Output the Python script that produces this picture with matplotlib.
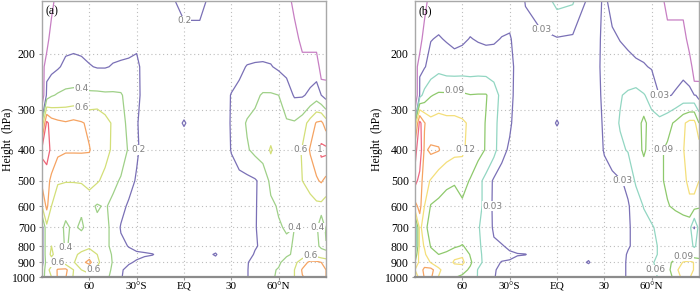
import numpy as np
import matplotlib
matplotlib.use("Agg")
import matplotlib.pyplot as plt

# latitude grid (deg, negative = south) and pressure levels (hPa, top to bottom)
LAT = [-90, -87, -84, -80, -75, -70, -65, -60, -55, -50, -45, -40, -35, -30, -25, -20,
       -10, 0, 10, 20, 25, 30, 35, 40, 45, 50, 55, 60, 65, 70, 75, 80, 84, 87, 90]
PRES = [135, 180, 220, 270, 330, 400, 500, 600, 700, 800, 850, 900, 950, 1000]
NA = -1.0  # no data (polar stratosphere)

# panel (a), one row per pressure level
FIELD_A = [
    [NA, NA, NA, .10, .08, .08, .08, .08, .08, .08, .08, .08, .08, .10, .10, .10, .15, .28, .28, .10, .08, .08, .08, .08, .08, .08, .08, .10, .10, NA, NA, NA, NA, NA, NA],
    [NA, NA, .12, .12, .14, .15, .14, .13, .13, .13, .14, .14, .14, .15, .10, .08, .08, .12, .12, .08, .06, .06, .06, .08, .10, .12, .12, .12, .10, .10, NA, NA, NA, NA, NA],
    [NA, .10, .14, .18, .24, .25, .24, .21, .19, .19, .21, .22, .23, .25, .12, .08, .07, .08, .08, .07, .07, .10, .16, .21, .22, .22, .21, .17, .14, .12, .10, .10, .10, NA, NA],
    [NA, .30, .38, .42, .45, .46, .45, .44, .44, .43, .43, .42, .32, .26, .12, .08, .06, .06, .06, .08, .12, .21, .25, .30, .36, .42, .42, .40, .30, .18, .18, .24, .30, .20, .12],
    [.45, 1.05, .90, .85, .82, .85, .82, .76, .78, .68, .57, .47, .35, .22, .10, .06, .05, .22, .05, .06, .10, .22, .32, .42, .45, .48, .50, .45, .42, .42, .50, .68, .82, .85, .70],
    [1.05, 1.10, .95, .85, .82, .82, .82, .81, .72, .66, .57, .50, .38, .24, .10, .06, .05, .05, .05, .06, .10, .21, .30, .38, .45, .50, .62, .50, .48, .50, .62, .82, .90, 1.05, 1.05],
    [.85, .88, .75, .62, .61, .61, .62, .68, .62, .55, .45, .38, .30, .17, .08, .06, .04, .04, .04, .06, .10, .12, .14, .15, .18, .26, .45, .48, .50, .52, .60, .68, .78, .82, .75],
    [.60, .85, .60, .48, .44, .45, .42, .45, .38, .42, .35, .28, .16, .10, .07, .05, .04, .04, .04, .05, .06, .10, .12, .15, .18, .28, .36, .42, .45, .48, .50, .52, .55, .55, .50],
    [.12, .55, .50, .45, .38, .42, .38, .45, .45, .42, .38, .18, .14, .10, .07, .05, .04, .04, .04, .05, .06, .08, .10, .14, .19, .25, .30, .38, .42, .40, .45, .50, .45, .19, .45],
    [.12, .55, .60, .50, .38, .45, .50, .55, .50, .45, .35, .25, .19, .13, .10, .08, .05, .05, .06, .10, .08, .10, .12, .16, .19, .22, .28, .32, .36, .42, .45, .42, .42, .38, .38],
    [.12, .55, .62, .55, .50, .55, .65, .72, .60, .48, .38, .30, .26, .24, .23, .21, .08, .06, .10, .22, .10, .10, .12, .16, .21, .28, .30, .33, .38, .42, .50, .55, .50, .45, .42],
    [.12, .50, .55, .60, .50, .58, .75, .85, .65, .48, .39, .30, .22, .18, .12, .10, .06, .05, .06, .12, .10, .12, .16, .19, .25, .30, .35, .38, .45, .55, .70, .85, .85, .80, .75],
    [.20, .55, .65, .82, .85, .60, .60, .65, .55, .45, .38, .22, .15, .12, .10, .08, .06, .05, .06, .08, .10, .12, .16, .19, .28, .35, .38, .41, .45, .60, .82, .90, .85, .90, .80],
    [.30, .50, .60, .82, .81, .58, .55, .55, .50, .42, .38, .21, .15, .12, .10, .08, .06, .05, .06, .08, .10, .12, .16, .19, .28, .35, .38, .42, .48, .60, .79, .85, .82, .85, .80],
]

# panel (b)
FIELD_B = [
    [NA, NA, NA, .015, .015, .015, .015, .015, .015, .015, .015, .015, .015, .015, .015, .032, .045, .07, .065, .025, .02, .035, .02, .015, .015, .015, .015, .015, .015, NA, NA, NA, NA, NA, NA],
    [NA, NA, .02, .029, .032, .028, .024, .026, .031, .028, .026, .027, .031, .033, .018, .02, .025, .028, .025, .02, .02, .04, .035, .029, .025, .02, .02, .02, .02, .02, .02, .02, NA, NA, NA],
    [NA, .02, .028, .04, .05, .045, .042, .045, .045, .046, .045, .044, .042, .04, .02, .015, .015, .018, .018, .015, .018, .045, .045, .042, .038, .035, .032, .028, .025, .022, .022, .022, .02, NA, NA],
    [NA, .05, .07, .088, .095, .095, .10, .095, .091, .092, .092, .075, .05, .038, .02, .015, .015, .015, .015, .015, .018, .04, .05, .058, .065, .07, .062, .05, .029, .028, .032, .04, .035, .035, .02],
    [.10, .19, .152, .13, .135, .13, .128, .125, .115, .105, .088, .07, .045, .035, .015, .012, .012, .032, .012, .012, .018, .035, .05, .062, .065, .07, .10, .07, .07, .08, .095, .115, .13, .13, .09],
    [.17, .20, .145, .155, .152, .135, .128, .125, .11, .10, .088, .07, .04, .025, .015, .012, .012, .012, .012, .012, .018, .032, .045, .055, .062, .075, .095, .075, .085, .095, .10, .118, .14, .148, .14],
    [.19, .17, .13, .118, .10, .095, .092, .10, .088, .07, .05, .025, .015, .012, .012, .01, .01, .01, .01, .012, .015, .02, .022, .028, .035, .065, .07, .075, .085, .095, .10, .11, .13, .14, .12],
    [.14, .16, .12, .088, .085, .08, .08, .085, .075, .065, .055, .022, .015, .012, .01, .01, .01, .01, .01, .01, .012, .015, .018, .02, .028, .04, .062, .068, .075, .088, .095, .10, .11, .10, .092],
    [.025, .13, .10, .075, .07, .068, .065, .068, .065, .062, .05, .025, .015, .012, .01, .01, .01, .01, .01, .01, .012, .012, .015, .018, .028, .035, .045, .058, .065, .068, .07, .075, .07, .028, .07],
    [.025, .13, .118, .088, .08, .08, .085, .092, .08, .065, .05, .035, .032, .025, .015, .012, .01, .01, .012, .015, .012, .015, .018, .02, .028, .035, .045, .055, .062, .065, .068, .07, .065, .058, .065],
    [.06, .14, .125, .10, .09, .095, .11, .115, .088, .068, .05, .04, .036, .034, .032, .031, .012, .01, .015, .02, .015, .015, .018, .022, .032, .04, .048, .055, .062, .07, .075, .08, .075, .07, .07],
    [.09, .13, .14, .118, .095, .10, .125, .128, .095, .07, .05, .035, .029, .028, .02, .015, .01, .01, .012, .033, .015, .015, .018, .025, .032, .04, .05, .058, .065, .08, .10, .122, .13, .118, .11],
    [.12, .14, .155, .16, .13, .095, .10, .10, .085, .058, .05, .032, .025, .02, .015, .012, .01, .01, .012, .015, .015, .015, .018, .025, .032, .04, .05, .058, .062, .08, .11, .14, .13, .118, .118],
    [.10, .13, .152, .155, .118, .092, .092, .085, .08, .058, .048, .031, .025, .02, .015, .012, .01, .01, .012, .015, .015, .015, .018, .025, .032, .04, .048, .055, .062, .075, .10, .13, .122, .11, .11],
]

LEVELS_A = [0.2, 0.4, 0.6, 0.8, 1.0]
COLORS_A = ['#7a70b6', '#9fd088', '#d3df78', '#f5a362', '#ee6476']
LEVELS_B = [0.03, 0.06, 0.09, 0.12, 0.15, 0.18]
COLORS_B = ['#7a70b6', '#92d6c2', '#8ec96c', '#f4df7a', '#f5a362', '#ef6a84']
MASK_COL = '#c77fc3'

XTICKS = [-60, -30, 0, 30, 60]
XTICKLABELS = ['60', '30°S', 'EQ', '30', '60°N']
YTICKS = [200, 300, 400, 500, 600, 700, 800, 900, 1000]

SERIF = 'Liberation Serif'
lat = np.array(LAT)
pres = np.array(PRES)

fig = plt.figure(figsize=(7.0, 2.93), dpi=100)
ax_a = fig.add_axes([42 / 700, 16 / 293, 284 / 700, 276 / 293])
ax_b = fig.add_axes([415 / 700, 16 / 293, 284 / 700, 276 / 293])

all_labels = []
for ax, field, levels, colors, fmt, tag, ylab_x in [
    (ax_a, FIELD_A, LEVELS_A, COLORS_A, lambda v: f'{v:g}', '(a)', -0.10),
    (ax_b, FIELD_B, LEVELS_B, COLORS_B, lambda v: f'{v:.2f}', '(b)', -0.112),
]:
    z = np.array(field)
    ax.set_yscale('log')
    ax.contour(lat, pres, z, levels=[-0.5], colors=[MASK_COL], linewidths=0.9,
               linestyles='solid')
    cs = ax.contour(lat, pres, z, levels=levels, colors=colors, linewidths=0.9,
                    linestyles='solid')
    labels = ax.clabel(cs, fmt=fmt, fontsize=6.5, colors='#7f7f7f', inline=False)
    for t in labels:
        t.set_rotation(0)
        t.set_bbox(dict(facecolor='white', edgecolor='none', pad=0.2))
    all_labels.append((ax, labels))

    ax.set_xlim(-90, 90)
    ax.set_ylim(1000, 137)
    ax.set_xticks(XTICKS)
    ax.set_xticklabels(XTICKLABELS, fontfamily=SERIF, fontsize=8)
    ax.set_yticks(YTICKS)
    ax.set_yticklabels([str(t) for t in YTICKS], fontfamily=SERIF, fontsize=8.5)
    ax.yaxis.set_minor_locator(matplotlib.ticker.NullLocator())
    ax.tick_params(length=2.5, width=0.8, color='#999999', pad=2)
    ax.tick_params(axis='x', pad=1)
    ax.grid(True, ls=(0, (1, 2.5)), lw=0.8, color='#bdbdbd')
    ax.set_axisbelow(True)
    for side in ['top', 'left', 'right']:
        ax.spines[side].set_color('#a8a8a8')
        ax.spines[side].set_linewidth(1.0)
    ax.spines['bottom'].set_color('#8c8c8c')
    ax.spines['bottom'].set_linewidth(1.6)
    ax.set_ylabel('Height  (hPa)', fontfamily=SERIF, fontsize=8.5)
    ax.yaxis.set_label_coords(ylab_x, 0.5)
    ax.text(0.012, 0.985, tag, transform=ax.transAxes, ha='left', va='top',
            fontfamily=SERIF, fontsize=8.5)

# drop contour labels that clash with each other or stick out of the frame
fig.canvas.draw()
renderer = fig.canvas.get_renderer()
for ax, labels in all_labels:
    frame = ax.get_window_extent(renderer)
    kept = []
    for t in labels:
        bb = t.get_window_extent(renderer).expanded(1.1, 1.1)
        outside = (bb.x0 < frame.x0 or bb.x1 > frame.x1 or
                   bb.y0 < frame.y0 or bb.y1 > frame.y1)
        if outside or any(bb.overlaps(k) for k in kept):
            t.set_visible(False)
        else:
            kept.append(bb)

fig.savefig('out.png', dpi=100)
